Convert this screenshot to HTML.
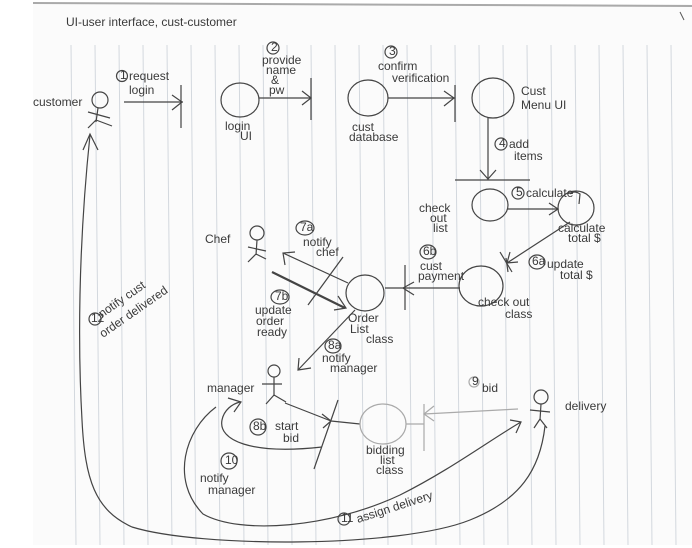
<!DOCTYPE html>
<html><head><meta charset="utf-8"><style>
html,body{margin:0;padding:0;background:#fff;}
svg{display:block;}
text{font-family:"Liberation Sans",sans-serif;fill:#3a3a3a;font-size:12px;}
</style></head><body>
<svg width="692" height="548" viewBox="0 0 692 548" xmlns="http://www.w3.org/2000/svg">
<rect x="0" y="0" width="692" height="548" fill="#fff"/>
<rect x="33" y="4" width="659" height="541" fill="#fbfbfb"/>
<line x1="33" y1="3" x2="692" y2="6" stroke="#aaa" stroke-width="2"/>
<g stroke="#d3d8de" stroke-width="1">
<line x1="71" y1="45" x2="76" y2="545"/><line x1="95" y1="45" x2="100" y2="545"/><line x1="119" y1="45" x2="124" y2="545"/><line x1="143" y1="45" x2="148" y2="545"/><line x1="167" y1="45" x2="172" y2="545"/><line x1="191" y1="45" x2="196" y2="545"/><line x1="215" y1="45" x2="220" y2="545"/><line x1="239" y1="45" x2="244" y2="545"/><line x1="263" y1="45" x2="268" y2="545"/><line x1="287" y1="45" x2="292" y2="545"/><line x1="311" y1="45" x2="316" y2="545"/><line x1="335" y1="45" x2="340" y2="545"/><line x1="359" y1="45" x2="364" y2="545"/><line x1="383" y1="45" x2="388" y2="545"/><line x1="407" y1="45" x2="412" y2="545"/><line x1="431" y1="45" x2="436" y2="545"/><line x1="455" y1="45" x2="460" y2="545"/><line x1="479" y1="45" x2="484" y2="545"/><line x1="503" y1="45" x2="508" y2="545"/><line x1="527" y1="45" x2="532" y2="545"/><line x1="551" y1="45" x2="556" y2="545"/><line x1="575" y1="45" x2="580" y2="545"/><line x1="599" y1="45" x2="604" y2="545"/><line x1="623" y1="45" x2="628" y2="545"/><line x1="647" y1="45" x2="652" y2="545"/><line x1="671" y1="45" x2="676" y2="545"/>
</g>
<line x1="680" y1="12" x2="684" y2="20" stroke="#555"/>
<text x="66" y="26" font-size="14">UI-user interface, cust-customer</text>

<g stroke="#444" stroke-width="1.2" fill="none">
<!-- customer -->
<circle cx="100" cy="100" r="8"/><line x1="98" y1="108" x2="96" y2="122"/><line x1="88" y1="112" x2="110" y2="118"/><line x1="96" y1="120" x2="88" y2="128"/><line x1="96" y1="120" x2="112" y2="126"/>
<line x1="124" y1="102" x2="183" y2="102"/><line x1="181" y1="85" x2="181" y2="128"/><path d="M172 95 L182 102 L172 110"/>
<ellipse cx="240" cy="100" rx="19" ry="17"/>
<line x1="259" y1="98" x2="311" y2="98"/><line x1="311" y1="78" x2="311" y2="120"/><path d="M302 91 L311 98 L302 105"/>
<ellipse cx="368" cy="98" rx="20" ry="18"/>
<line x1="388" y1="98" x2="455" y2="98"/><line x1="455" y1="85" x2="455" y2="122"/><path d="M444 91 L454 98 L444 106"/>
<ellipse cx="493" cy="98" rx="21" ry="20"/>
<line x1="488" y1="117" x2="488" y2="180"/><line x1="455" y1="180" x2="530" y2="180"/><path d="M480 170 L488 179 L496 170"/>
<ellipse cx="490" cy="205" rx="18" ry="16"/>
<line x1="507" y1="209" x2="558" y2="209"/><path d="M549 203 L558 209 L549 215"/>
<ellipse cx="576" cy="208" rx="18" ry="17"/><path d="M570 194 Q574 190 580 194 L579 204"/>
<line x1="570" y1="222" x2="507" y2="263"/><path d="M510 252 L507 263 L518 262"/><line x1="500" y1="252" x2="512" y2="272"/>
<ellipse cx="481" cy="286" rx="22" ry="20"/><path d="M506 258 L508 272"/>
<line x1="460" y1="288" x2="385" y2="288"/><line x1="405" y1="265" x2="405" y2="310"/><path d="M414 282 L403 288 L414 295"/>
<ellipse cx="365" cy="293" rx="19" ry="18"/>
<!-- chef -->
<circle cx="257" cy="233" r="7"/><line x1="257" y1="240" x2="256" y2="255"/><line x1="248" y1="247" x2="266" y2="251"/><line x1="256" y1="254" x2="248" y2="262"/><line x1="256" y1="254" x2="266" y2="259"/>
<line x1="348" y1="283" x2="283" y2="253"/><path d="M285 265 L283 253 L295 252"/>
<line x1="343" y1="257" x2="308" y2="305"/>
<line x1="272" y1="272" x2="345" y2="308" stroke-width="2.2"/><path d="M338 296 L346 308 L334 310"/>
<line x1="355" y1="310" x2="298" y2="370"/><path d="M299 358 L298 370 L311 368"/>
<!-- manager -->
<circle cx="274" cy="371" r="6"/><line x1="274" y1="377" x2="274" y2="396"/><line x1="262" y1="384" x2="282" y2="384"/><line x1="274" y1="395" x2="266" y2="404"/><line x1="274" y1="395" x2="286" y2="402"/>
<line x1="285" y1="403" x2="331" y2="421"/><line x1="338" y1="400" x2="314" y2="469"/><path d="M322 414 L331 421 L323 428"/>
<line x1="331" y1="421" x2="360" y2="424"/>
<!-- loop 10 -->
<path d="M322 447 C250 455 218 440 222 420 C224 410 232 404 240 402"/><path d="M228 398 L241 402 L234 412"/>
<!-- 11 -->
<path d="M216 407 C185 430 170 480 203 514 C240 535 330 528 400 495 C450 470 490 440 521 422"/><path d="M510 420 L521 422 L516 433"/>
<!-- 12 -->
<path d="M545 426 C540 470 520 500 470 520 C400 548 200 548 132 527 C95 510 85 480 82 420 C78 350 78 250 90 135"/><path d="M83 150 L90 134 L98 150"/>
<!-- delivery -->
<circle cx="541" cy="397" r="7"/><line x1="541" y1="404" x2="540" y2="420"/><line x1="530" y1="410" x2="550" y2="412"/><line x1="540" y1="419" x2="534" y2="428"/><line x1="540" y1="419" x2="547" y2="428"/>
<!-- numbered circles -->
<circle cx="122" cy="76" r="5.5"/><circle cx="273" cy="48" r="6"/><circle cx="391" cy="52" r="6"/><circle cx="501" cy="144" r="6"/><circle cx="518" cy="193" r="6"/>
<ellipse cx="305" cy="228" rx="9" ry="7"/><ellipse cx="428" cy="252" rx="8" ry="7"/><ellipse cx="537" cy="262" rx="8" ry="7"/><ellipse cx="280" cy="297" rx="9" ry="7"/><ellipse cx="333" cy="346" rx="8" ry="7"/><ellipse cx="258" cy="427" rx="8" ry="8"/><ellipse cx="229" cy="461" rx="8" ry="8"/><circle cx="344" cy="519" r="6"/><circle cx="95" cy="319" r="6"/>
</g>
<g stroke="#aaa" stroke-width="1.2" fill="none">
<ellipse cx="383" cy="424" rx="23" ry="20"/>
<line x1="424" y1="404" x2="424" y2="451"/><line x1="406" y1="424" x2="424" y2="424"/>
<line x1="518" y1="409" x2="424" y2="414"/><path d="M434 406 L424 414 L434 421"/>
<circle cx="474" cy="382" r="5"/>
</g>
<text x="33" y="106" font-size="11">customer</text>
<text x="129" y="80" font-size="11">request</text><text x="129" y="94" font-size="11">login</text>
<text x="262" y="64" font-size="9">provide</text><text x="266" y="74" font-size="9">name</text><text x="271" y="84" font-size="9">&amp;</text><text x="269" y="94" font-size="9">pw</text>
<text x="378" y="70" font-size="10">confirm</text><text x="392" y="82" font-size="10">verification</text>
<text x="225" y="130" font-size="10">login</text><text x="240" y="140" font-size="10">UI</text>
<text x="352" y="131" font-size="10">cust</text><text x="349" y="141" font-size="10">database</text>
<text x="521" y="95" font-size="11">Cust</text><text x="521" y="109" font-size="11">Menu UI</text>
<text x="509" y="148" font-size="11">add</text><text x="514" y="160" font-size="11">items</text>
<text x="526" y="197" font-size="10">calculate</text>
<text x="419" y="212" font-size="10">check</text><text x="430" y="222" font-size="10">out</text><text x="433" y="232" font-size="10">list</text>
<text x="558" y="232" font-size="9">calculate</text><text x="568" y="242" font-size="9">total $</text>
<text x="547" y="268" font-size="11">update</text><text x="560" y="279" font-size="11">total $</text>
<text x="420" y="270" font-size="10">cust</text><text x="418" y="280" font-size="10">payment</text>
<text x="478" y="306" font-size="11">check out</text><text x="505" y="318" font-size="11">class</text>
<text x="205" y="243" font-size="11">Chef</text>
<text x="303" y="246" font-size="10">notify</text><text x="316" y="256" font-size="10">chef</text>
<text x="255" y="314" font-size="10">update</text><text x="256" y="325" font-size="10">order</text><text x="257" y="336" font-size="10">ready</text>
<text x="348" y="322" font-size="10">Order</text><text x="350" y="333" font-size="10">List</text><text x="366" y="343" font-size="10">class</text>
<text x="322" y="362" font-size="9">notify</text><text x="330" y="372" font-size="9">manager</text>
<text x="207" y="392" font-size="10">manager</text>
<text x="275" y="430" font-size="11">start</text><text x="283" y="442" font-size="11">bid</text>
<text x="366" y="454" font-size="8" fill="#999">bidding</text><text x="380" y="464" font-size="8" fill="#999">list</text><text x="376" y="474" font-size="8" fill="#999">class</text>
<text x="482" y="392" font-size="10" fill="#888">bid</text>
<text x="565" y="410" font-size="12">delivery</text>
<text x="200" y="482" font-size="10">notify</text><text x="208" y="494" font-size="10">manager</text>
<text x="358" y="523" font-size="11" transform="rotate(-18 358 523)">assign delivery</text>
<text x="102" y="318" font-size="11" transform="rotate(-35 102 318)">notify cust</text>
<text x="103" y="338" font-size="11" transform="rotate(-35 103 338)">order delivered</text>
<g font-size="7"><text x="120" y="79">1</text><text x="271" y="51">2</text><text x="389" y="55">3</text><text x="499" y="147">4</text><text x="516" y="196">5</text><text x="300" y="231">7a</text><text x="423" y="255">6b</text><text x="532" y="265">6a</text><text x="275" y="300">7b</text><text x="328" y="349">8a</text><text x="253" y="430">8b</text><text x="225" y="464">10</text><text x="341" y="522">11</text><text x="91" y="322">12</text><text x="472" y="385" fill="#999">9</text></g>
</svg>
</body></html>
